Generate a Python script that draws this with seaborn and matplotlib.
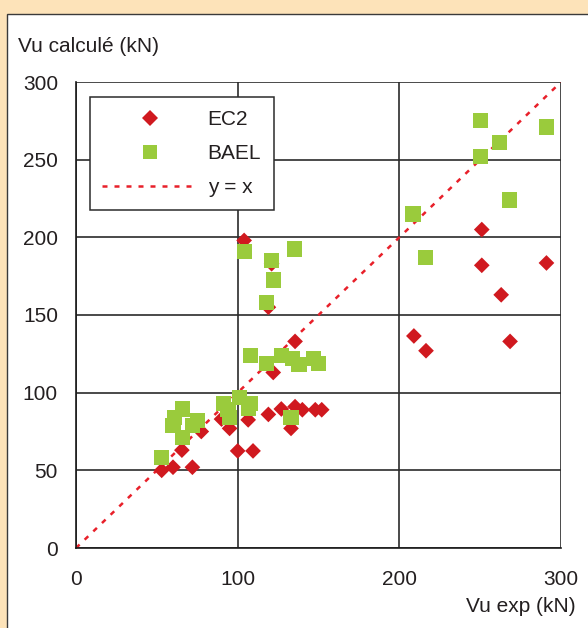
import matplotlib
matplotlib.use("Agg")
import matplotlib.pyplot as plt
import matplotlib.patches as mpatches
from matplotlib.lines import Line2D
import numpy as np
import pandas as pd
import seaborn as sns

# EC2 points (Vu exp, Vu calcule), kN
ec2_exp = [53, 60, 72, 65.5, 77.5, 90, 95, 100, 109.5, 106.5, 104, 119, 121, 119,
           122, 127, 133, 135.5, 135.5, 140, 148, 152, 209, 216.5, 251, 251, 263,
           268.5, 291]
ec2_calc = [50, 52, 52, 63, 75, 83, 77, 62.5, 62.5, 82.5, 198, 155, 183, 86,
            113, 89.5, 77, 133, 91, 89, 89, 89, 136.5, 127, 205, 182, 163,
            133, 183.5]

# BAEL points
bael_exp = [53, 60, 61, 66, 72, 66, 75, 91, 94, 95, 101, 106.5, 108, 104, 108,
            118, 118, 121, 122, 127, 133, 134, 135, 138, 147, 150, 208.5, 216,
            250, 250, 262, 268, 291]
bael_calc = [58.5, 79, 84, 89.5, 79, 71, 82, 93, 89, 84, 97, 90, 93, 191, 124,
             119, 158, 185, 172.5, 124, 84, 122, 192.5, 118, 122, 119, 215, 187,
             275, 252, 261, 224, 271]

line_x = [0, 300]
line_y = [0, 300]

x_ticks = [0, 100, 200, 300]
y_ticks = [0, 50, 100, 150, 200, 250, 300]

RED = "#D0191F"
GREEN = "#9ACB3C"
DASH_RED = "#E8202A"
TEXT = "#231F20"
FS = 15

df = pd.DataFrame({
    "exp": ec2_exp + bael_exp,
    "calc": ec2_calc + bael_calc,
    "method": ["EC2"] * len(ec2_exp) + ["BAEL"] * len(bael_exp),
})

sns.set_style("white")
plt.rcParams["font.family"] = ["Liberation Sans", "DejaVu Sans"]
plt.rcParams["text.color"] = TEXT

fig = plt.figure(figsize=(5.88, 6.28), dpi=100, facecolor="#FDE3B9")
# white panel with a thin border, behind the axes
fig.patches.append(mpatches.Rectangle((7 / 588, -0.02), 1.0, (628 - 14) / 628 + 0.02,
                                      transform=fig.transFigure, facecolor="white",
                                      edgecolor="#3A3A3A", linewidth=1.0, zorder=-10))

ax = fig.add_axes([76 / 588, 1 - 548 / 628, (561 - 76) / 588, (548 - 82) / 628])
ax.set_facecolor("none")

ax.plot(line_x, line_y, color=DASH_RED, lw=1.8, linestyle=(0, (2.0, 2.8)), zorder=2)

sns.scatterplot(data=df, x="exp", y="calc", hue="method", style="method",
                hue_order=["EC2", "BAEL"], style_order=["EC2", "BAEL"],
                palette={"EC2": RED, "BAEL": GREEN},
                markers={"EC2": "D", "BAEL": "s"},
                size="method", sizes={"EC2": 64, "BAEL": 120},
                linewidth=0, legend=False, ax=ax, zorder=3)

ax.set_xlim(0, 300)
ax.set_ylim(0, 300)
ax.set_xticks(x_ticks)
ax.set_yticks(y_ticks)
ax.grid(True, color="#2B2B2B", linewidth=1.2)
ax.set_axisbelow(True)
for side in ["top", "right"]:
    ax.spines[side].set_visible(False)
for side in ["left", "bottom"]:
    ax.spines[side].set_color("#1A1A1A")
    ax.spines[side].set_linewidth(1.2)
ax.tick_params(axis="both", length=7, width=1.1, color="#1A1A1A", pad=6,
               labelsize=FS, labelcolor=TEXT)
ax.tick_params(axis="x", pad=9)
ax.set_xlabel("")
ax.set_ylabel("")

fig.text(18 / 588, 1 - 46 / 628, "Vu calculé (kN)", fontsize=FS, va="center",
         ha="left", color=TEXT)
fig.text(576 / 588, 1 - 607 / 628, "Vu exp (kN)", fontsize=FS, va="center",
         ha="right", color=TEXT)

handles = [
    Line2D([], [], marker="D", color="none", markerfacecolor=RED,
           markeredgewidth=0, markersize=8, label="EC2"),
    Line2D([], [], marker="s", color="none", markerfacecolor=GREEN,
           markeredgewidth=0, markersize=10, label="BAEL"),
    Line2D([], [], color=DASH_RED, lw=1.8, linestyle=(0, (2.0, 2.8)), label="y = x"),
]
leg = ax.legend(handles=handles, loc="upper left", bbox_to_anchor=(0.028, 0.968),
                fontsize=FS, frameon=True, fancybox=False, framealpha=1,
                edgecolor="#2B2B2B", handlelength=4.6, handletextpad=0.45,
                labelspacing=0.72, borderpad=0.62, borderaxespad=0)
leg.get_frame().set_linewidth(1.1)

fig.savefig("out.png", dpi=100, facecolor=fig.get_facecolor())
